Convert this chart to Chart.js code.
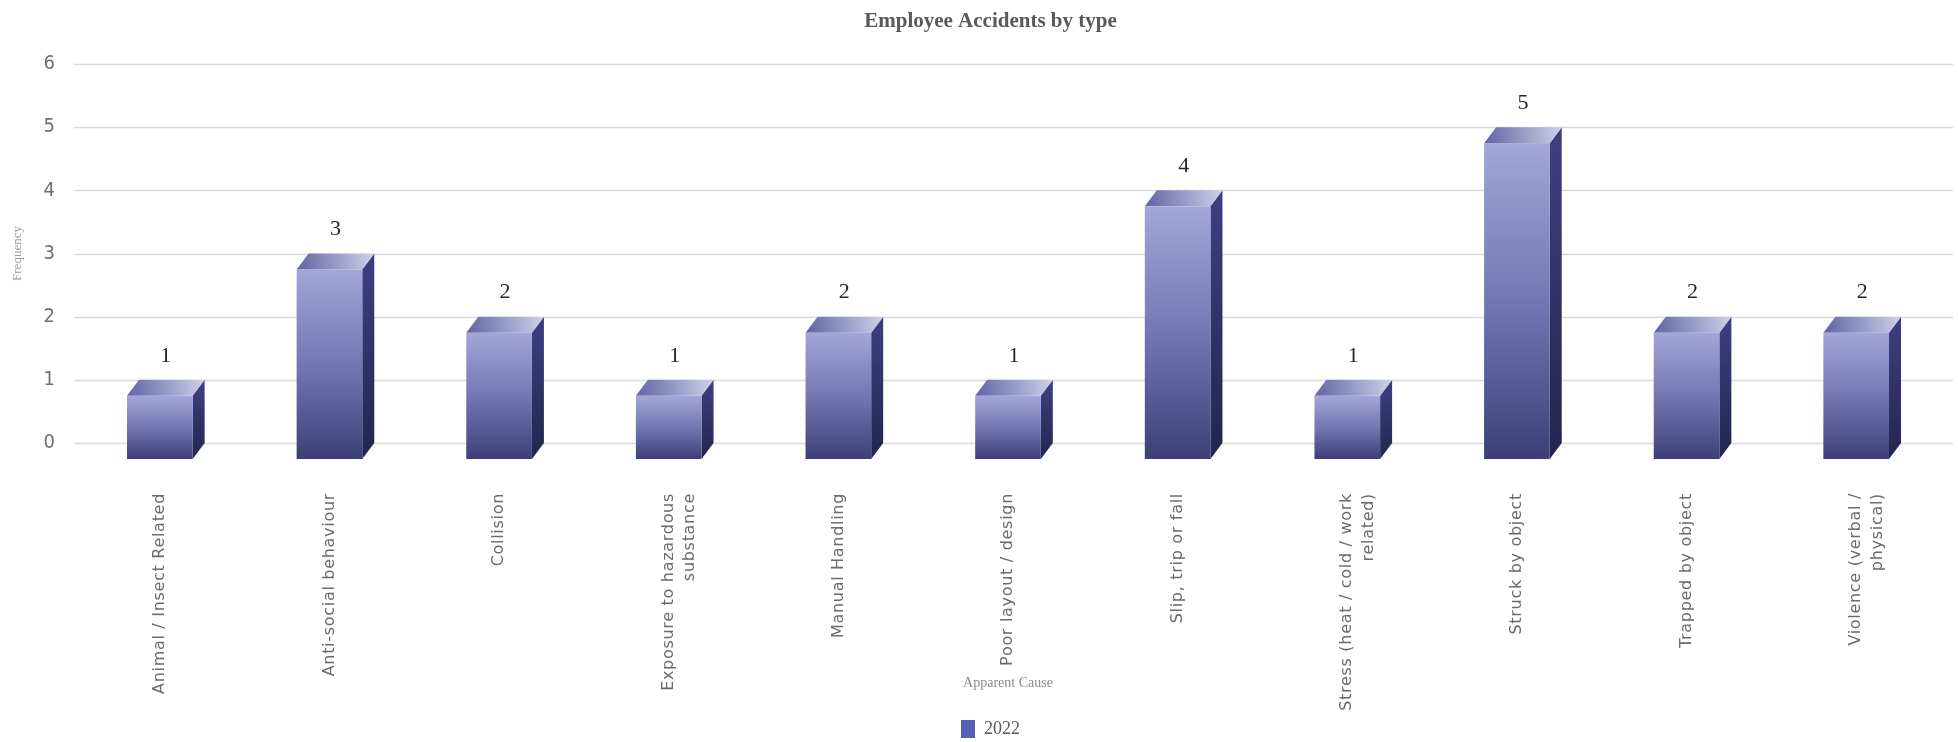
<!DOCTYPE html>
<html><head><meta charset="utf-8">
<script src="https://cdn.jsdelivr.net/npm/chart.js@4.4.1/dist/chart.umd.min.js"></script>
<style>html,body{margin:0;padding:0;background:#fff;} #wrap{width:1958px;height:742px;position:relative;}</style>
</head><body><div id="wrap"><canvas id="c"></canvas></div>
<script>
const categories = [
  'Animal / Insect Related',
  'Anti-social behaviour',
  'Collision',
  ['Exposure to hazardous', 'substance'],
  'Manual Handling',
  'Poor layout / design',
  'Slip, trip or fall',
  ['Stress (heat / cold / work', 'related)'],
  'Struck by object',
  'Trapped by object',
  ['Violence (verbal /', 'physical)']
];
const seriesName = '2022';
const values2022 = [1, 3, 2, 1, 2, 1, 4, 1, 5, 2, 2];
const yTicks = [0, 1, 2, 3, 4, 5, 6];
const chartTitle = 'Employee Accidents by type';
const xTitle = 'Apparent Cause';
const yTitle = 'Frequency';

const DX = 12, DY = 16;
const bars3d = {
  id: 'bars3d',
  beforeDatasetsDraw(chart) {
    const {ctx, chartArea, scales: {y}} = chart;
    ctx.save();
    ctx.strokeStyle = '#d9d9d9';
    ctx.lineWidth = 1.5;
    y.ticks.forEach(t => {
      const py = Math.round(y.getPixelForValue(t.value)) + 0.5;
      ctx.beginPath();
      ctx.moveTo(chartArea.left - 1, py);
      ctx.lineTo(chartArea.right + DX, py);
      ctx.stroke();
    });
    ctx.restore();
  },
  beforeDatasetDraw() { return false; },
  afterDatasetsDraw(chart) {
    const {ctx} = chart;
    const meta = chart.getDatasetMeta(0);
    ctx.save();
    meta.data.forEach((bar, i) => {
      const {x, y, base, width} = bar.getProps(['x', 'y', 'base', 'width'], true);
      const l = x - width / 2, r = x + width / 2;
      const ft = y + DY, fb = base + DY;
      let g = ctx.createLinearGradient(0, y, 0, fb);
      g.addColorStop(0, '#3d4080');
      g.addColorStop(1, '#23254f');
      ctx.fillStyle = g;
      ctx.beginPath();
      ctx.moveTo(r, ft); ctx.lineTo(r + DX, y); ctx.lineTo(r + DX, base); ctx.lineTo(r, fb); ctx.closePath();
      ctx.fill();
      g = ctx.createLinearGradient(l, ft, r + DX, y);
      g.addColorStop(0, '#5f63a3');
      g.addColorStop(1, '#d0d2ea');
      ctx.fillStyle = g;
      ctx.beginPath();
      ctx.moveTo(l, ft); ctx.lineTo(l + DX, y); ctx.lineTo(r + DX, y); ctx.lineTo(r, ft); ctx.closePath();
      ctx.fill();
      g = ctx.createLinearGradient(0, ft, 0, fb);
      g.addColorStop(0, '#a3a6d7');
      g.addColorStop(0.5, '#7477b2');
      g.addColorStop(1, '#3c3f77');
      ctx.fillStyle = g;
      ctx.fillRect(l, ft, width, fb - ft);
      ctx.fillStyle = '#262626';
      ctx.font = '22px "Liberation Serif", serif';
      ctx.textAlign = 'center';
      ctx.textBaseline = 'middle';
      ctx.fillText(String(values2022[i]), x + DX / 2, y - 24);
    });
    ctx.restore();
    // spaced lettering for the category labels, drawn next (x ticks have z: 1)
    ctx.letterSpacing = '0.7px';
  },
  afterDraw(chart) {
    chart.ctx.letterSpacing = '0px';
  }
};

new Chart(document.getElementById('c'), {
  type: 'bar',
  data: {
    labels: categories,
    datasets: [{
      label: seriesName,
      data: values2022,
      backgroundColor: '#575cb5',
      borderWidth: 0,
      barPercentage: 0.387,
      categoryPercentage: 1
    }]
  },
  options: {
    responsive: true,
    maintainAspectRatio: false,
    animation: false,
    layout: { padding: { left: 40, right: 17, top: 0, bottom: -6 } },
    plugins: {
      title: {
        display: true, text: chartTitle, color: '#595959',
        font: { family: '"Liberation Serif", serif', size: 21, weight: 'bold' },
        padding: { top: 9.4, bottom: 29.4 }
      },
      legend: {
        position: 'bottom',
        labels: {
          boxWidth: 14, boxHeight: 18, padding: 0, color: '#595959',
          font: { family: '"Liberation Serif", serif', size: 18 }
        }
      },
      tooltip: { enabled: false }
    },
    scales: {
      x: {
        grid: { display: false, drawTicks: false },
        border: { display: false },
        ticks: {
          z: 1,
          autoSkip: false, minRotation: 90, maxRotation: 90, padding: 50,
          color: '#6b6b6b',
          font: { family: '"DejaVu Sans", sans-serif', size: 16, lineHeight: 1.35 }
        },
        title: {
          display: true, text: xTitle, color: '#8c8c8c',
          font: { family: '"Liberation Serif", serif', size: 14 },
          padding: { top: 0, bottom: 28.6 }
        },
        afterFit(s) { s.height = 277; }
      },
      y: {
        min: 0, max: 6,
        grid: { display: false, drawTicks: false },
        border: { display: false },
        afterBuildTicks(s) { s.ticks = yTicks.map(v => ({ value: v })); },
        ticks: {
          stepSize: 1, padding: 20, color: '#6f6f6f',
          font: { family: '"Liberation Sans Narrow", "DejaVu Sans Condensed", sans-serif', size: 20 }
        },
        title: {
          display: true, text: yTitle, color: '#9a9a9a',
          font: { family: '"Liberation Serif", serif', size: 13 },
          padding: { top: -29.8, bottom: 0 }
        },
        afterFit(s) { s.width = 35; }
      }
    }
  },
  plugins: [bars3d]
});
</script>
</body></html>
